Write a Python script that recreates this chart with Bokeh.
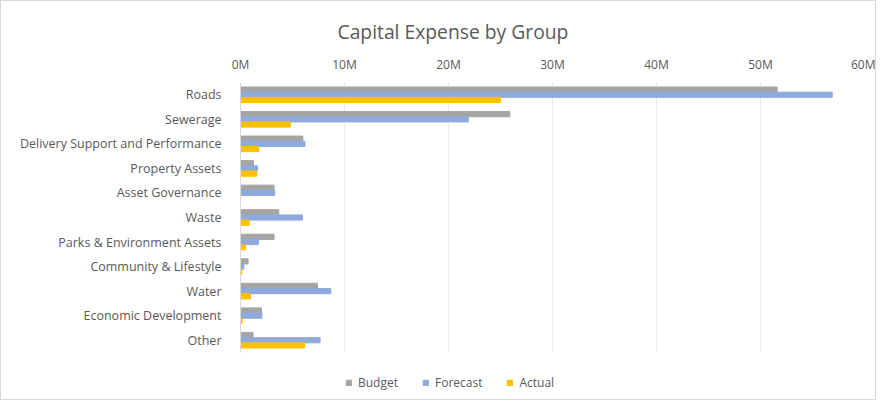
from bokeh.plotting import figure
from bokeh.layouts import column
from bokeh.models import (FactorRange, Range1d, ColumnDataSource, Legend,
                          LegendItem, FixedTicker, CustomJSTickFormatter, Title)
from bokeh.transform import dodge
from bokeh.embed import file_html
from bokeh.resources import INLINE

categories = ["Roads", "Sewerage", "Delivery Support and Performance", "Property Assets",
              "Asset Governance", "Waste", "Parks & Environment Assets",
              "Community & Lifestyle", "Water", "Economic Development", "Other"]
budget = [51.6, 25.9, 6.0, 1.25, 3.23, 3.68, 3.23, 0.73, 7.4, 2.02, 1.21]
forecast = [56.9, 21.9, 6.2, 1.63, 3.3, 5.96, 1.73, 0.32, 8.68, 2.05, 7.65]
actual = [25.0, 4.8, 1.76, 1.57, 0.0, 0.83, 0.48, 0.13, 0.96, 0.15, 6.18]
tick_values = [0, 10, 20, 30, 40, 50, 60]
series_names = ["Budget", "Forecast", "Actual"]
series_keys = ["budget", "forecast", "actual"]
colors = ["#A5A5A5", "#8FAADC", "#FFC000"]

TEXT = "#595959"
FONT = "Open Sans"

src = ColumnDataSource(dict(cat=categories, budget=budget, forecast=forecast, actual=actual))

p = figure(width=874, height=361, output_backend="svg", toolbar_location=None,
           y_range=FactorRange(factors=list(reversed(categories))),
           x_range=Range1d(0, 60), x_axis_location="above",
           min_border_left=239, min_border_right=11, min_border_top=81,
           min_border_bottom=10)

p.title = Title(text="Capital Expense by Group", align="left", offset=97,
                text_font=FONT, text_font_size="19.3px", text_font_style="normal",
                text_color=TEXT, standoff=15)

h = 0.212
r_b = p.hbar(y=dodge("cat", h, range=p.y_range), right="budget", left=0, height=h,
             source=src, color=colors[0])
r_f = p.hbar(y=dodge("cat", 0, range=p.y_range), right="forecast", left=0, height=h,
             source=src, color=colors[1])
r_a = p.hbar(y=dodge("cat", -h, range=p.y_range), right="actual", left=0, height=h,
             source=src, color=colors[2])

xa = p.xaxis[0]
xa.ticker = FixedTicker(ticks=tick_values)
xa.formatter = CustomJSTickFormatter(code="return tick + 'M';")
xa.axis_line_color = None
xa.major_tick_line_color = None
xa.minor_tick_line_color = None
xa.major_label_text_font = FONT
xa.major_label_text_font_size = "12px"
xa.major_label_text_color = TEXT
xa.major_label_standoff = 4

ya = p.yaxis[0]
ya.axis_line_color = "#D9D9D9"
ya.major_tick_line_color = None
ya.minor_tick_line_color = None
ya.major_label_text_font = FONT
ya.major_label_text_font_size = "12.5px"
ya.major_label_text_color = TEXT
ya.major_label_standoff = 13

p.xgrid.ticker = FixedTicker(ticks=tick_values)
p.xgrid.grid_line_color = "#EBEBEB"
p.ygrid.grid_line_color = None
p.outline_line_color = None

# legend strip below the chart (its frame is aligned with the chart's frame)
lg = figure(width=874, height=37, output_backend="svg", toolbar_location=None,
            x_range=Range1d(0, 60), y_range=Range1d(0, 1),
            x_axis_location=None, y_axis_location=None,
            min_border_left=0, min_border_right=0, min_border_top=0, min_border_bottom=0)
lg.grid.visible = False
lg.outline_line_color = None
items = []
for name, key, col in zip(series_names, series_keys, colors):
    # same data, placed outside this strip's visible range: only the legend swatch shows
    r = lg.hbar(y=-5, right=key, left=0, height=0.2, color=col, source=src)
    items.append(LegendItem(label=name, renderers=[r]))

legend = Legend(items=items, orientation="horizontal", location=(105, 8),
                padding=0, margin=0, spacing=24, glyph_width=7, glyph_height=7,
                label_standoff=6, label_text_font=FONT, label_text_font_size="12px",
                label_text_color=TEXT, border_line_color=None,
                background_fill_alpha=0)
lg.add_layout(legend, "center")

layout = column(p, lg, spacing=0)
layout.styles = {"border": "1px solid #D9D9D9"}

open("out.html", "w").write(file_html(layout, INLINE))
